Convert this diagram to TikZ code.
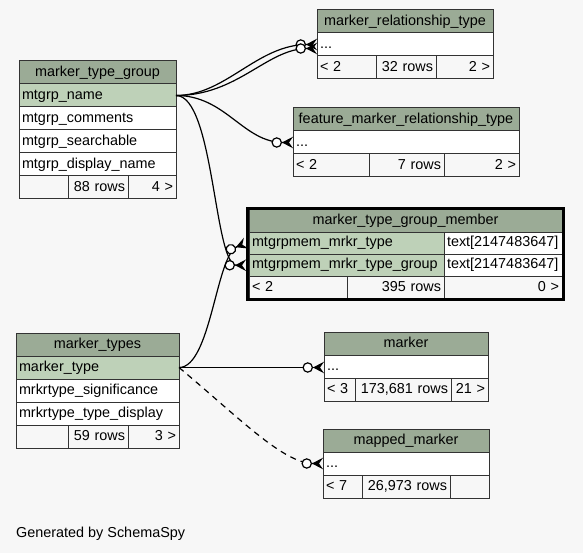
\documentclass[tikz,border=0pt]{standalone}
\usepackage{fontspec}
\setmainfont{Liberation Sans}
\usetikzlibrary{positioning,arrows.meta}
\definecolor{HeadGreen}{HTML}{9BAB96}
\definecolor{KeyGreen}{HTML}{BED1B8}
\definecolor{BackGray}{HTML}{F7F7F7}
\begin{document}
\begin{tikzpicture}[x=1pt, y=-1pt, node distance=23pt, font=\fontsize{14.4}{17}\selectfont]
	\tikzstyle{Cell} = [draw=black!80, line width=1pt, minimum height=23pt, inner xsep=3pt, inner ysep=0pt, outer sep=0pt, text height=10.5pt, text depth=3pt]
	\tikzstyle{Head} = [Cell, fill=HeadGreen, align=center]
	\tikzstyle{Key} = [Cell, fill=KeyGreen, align=left]
	\tikzstyle{Field} = [Cell, fill=white, align=left]
	\tikzstyle{FootL} = [Cell, fill=BackGray, align=left]
	\tikzstyle{FootR} = [Cell, fill=BackGray, align=right]
	\tikzstyle{Rel} = [line width=1.2pt, -{Circle[fill=white, length=10.5pt] Stealth[reversed, length=11pt, width=11.5pt, inset=4pt]}]
	
	\path[use as bounding box, fill=BackGray] (0,0) rectangle (583,553);
	
	\node[name=mtg0, Head, text width=151pt, anchor=north west] at (19,61) {marker\_type\_group};
	\node[name=mtg1, below of=mtg0, Key, text width=151pt]{mtgrp\_name};
	\node[name=mtg2, below of=mtg1, Field, text width=151pt]{mtgrp\_comments};
	\node[name=mtg3, below of=mtg2, Field, text width=151pt]{mtgrp\_searchable};
	\node[name=mtg4, below of=mtg3, Field, text width=151pt]{mtgrp\_display\_name};
	\node[name=mtgf1, below=0pt of mtg4.south west, anchor=north west, FootL, text width=43pt]{};
	\node[name=mtgf2, right=0pt of mtgf1, FootR, text width=54pt]{88 rows};
	\node[name=mtgf3, right=0pt of mtgf2, FootR, text width=42pt]{4 >};
	
	\node[name=mrt0, Head, text width=170pt, anchor=north west] at (317,10) {marker\_relationship\_type};
	\node[name=mrt1, below of=mrt0, Field, text width=170pt]{...};
	\node[name=mrtf1, below=0pt of mrt1.south west, anchor=north west, FootL, text width=53pt]{< 2};
	\node[name=mrtf2, right=0pt of mrtf1, FootR, text width=54pt]{32 rows};
	\node[name=mrtf3, right=0pt of mrtf2, FootR, text width=51pt]{2 >};
	
	\node[name=fmrt0, Head, text width=220pt, anchor=north west] at (293,108) {feature\_marker\_relationship\_type};
	\node[name=fmrt1, below of=fmrt0, Field, text width=220pt]{...};
	\node[name=fmrtf1, below=0pt of fmrt1.south west, anchor=north west, FootL, text width=70pt]{< 2};
	\node[name=fmrtf2, right=0pt of fmrtf1, FootR, text width=69pt]{7 rows};
	\node[name=fmrtf3, right=0pt of fmrtf2, FootR, text width=69pt]{2 >};
	
	\node[name=mtgm0, Head, text width=307pt, minimum height=22.1pt, anchor=north west] at (249,210) {marker\_type\_group\_member};
	\node[name=mtgm1, below=0pt of mtgm0.south west, anchor=north west, Key, text width=189pt, minimum height=22.1pt]{mtgrpmem\_mrkr\_type};
	\node[name=mtgm1t, right=0pt of mtgm1, Field, text width=112pt, minimum height=22.1pt]{text[2147483647]};
	\node[name=mtgm2, below=0pt of mtgm1.south west, anchor=north west, Key, text width=189pt, minimum height=22.1pt]{mtgrpmem\_mrkr\_type\_group};
	\node[name=mtgm2t, right=0pt of mtgm2, Field, text width=112pt, minimum height=22.1pt]{text[2147483647]};
	\node[name=mtgmf1, below=0pt of mtgm2.south west, anchor=north west, FootL, text width=92pt, minimum height=22.1pt]{< 2};
	\node[name=mtgmf2, right=0pt of mtgmf1, FootR, text width=91pt, minimum height=22.1pt]{395 rows};
	\node[name=mtgmf3, right=0pt of mtgmf2, FootR, text width=112pt, minimum height=22.1pt]{0 >};
	\draw[line width=3pt] ([shift={(-1.5pt,1.5pt)}]mtgm0.north west) rectangle ([shift={(1.5pt,-1.5pt)}]mtgmf3.south east);
	
	\node[name=mt0, Head, text width=157pt, anchor=north west] at (16,333) {marker\_types};
	\node[name=mt1, below of=mt0, Key, text width=157pt]{marker\_type};
	\node[name=mt2, below of=mt1, Field, text width=157pt]{mrkrtype\_significance};
	\node[name=mt3, below of=mt2, Field, text width=157pt]{mrkrtype\_type\_display};
	\node[name=mtf1, below=0pt of mt3.south west, anchor=north west, FootL, text width=46pt]{};
	\node[name=mtf2, right=0pt of mtf1, FootR, text width=54pt]{59 rows};
	\node[name=mtf3, right=0pt of mtf2, FootR, text width=45pt]{3 >};
	
	\node[name=mk0, Head, text width=158pt, anchor=north west] at (324,332) {marker};
	\node[name=mk1, below of=mk0, Field, text width=158pt]{...};
	\node[name=mkf1, below=0pt of mk1.south west, anchor=north west, FootL, text width=25pt]{< 3};
	\node[name=mkf2, right=0pt of mkf1, FootR, text width=90pt]{173,681 rows};
	\node[name=mkf3, right=0pt of mkf2, FootR, text width=31pt]{21 >};
	
	\node[name=mm0, Head, text width=160pt, anchor=north west] at (323,429) {mapped\_marker};
	\node[name=mm1, below of=mm0, Field, text width=160pt]{...};
	\node[name=mmf1, below=0pt of mm1.south west, anchor=north west, FootL, text width=33pt]{< 7};
	\node[name=mmf2, right=0pt of mmf1, FootR, text width=82pt]{26,973 rows};
	\node[name=mmf3, right=0pt of mmf2, FootR, text width=33pt]{};
	
	\node[name=credit, anchor=base west, inner sep=0pt] at (16,537) {Generated by SchemaSpy};
	
	\draw[Rel] (mtg1.east) .. controls +(50,0) and +(-60,0) .. (mrt1.west);
	\draw[Rel] (mtg1.east) .. controls +(62,0) and +(-50,0) .. ([yshift=-4pt]mrt1.west);
	\draw[Rel] (mtg1.east) .. controls +(50,0) and +(-50,0) .. (fmrt1.west);
	\draw[Rel] (mtg1.east) .. controls +(38,0) and +(-32,0) .. ([xshift=-3pt]mtgm2.west);
	\draw[Rel] (mt1.east) .. controls +(32,0) and +(-30,12) .. ([xshift=-3pt]mtgm1.west);
	\draw[Rel] (mt1.east) -- (mt1.east -| mk1.west);
	\draw[Rel, dash pattern=on 6pt off 5pt] (mt1.east) .. controls +(60,50) and +(-40,0) .. (mm1.west);
\end{tikzpicture}
\end{document}
